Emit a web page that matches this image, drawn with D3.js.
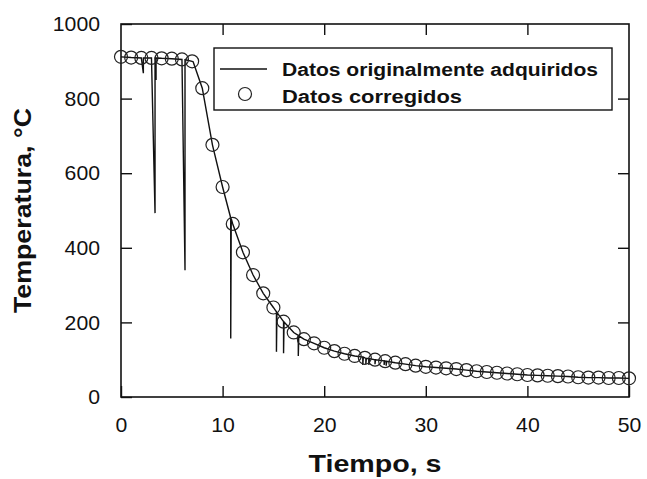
<!DOCTYPE html>
<html>
<head>
<meta charset="utf-8">
<script src="https://cdn.jsdelivr.net/npm/d3@7"></script>
<style>
    body { margin: 0; background: #fff; }
    svg text { font-family: "Liberation Sans", Arial, sans-serif; fill: #111; }
</style>
</head>
<body>
<div id="chart"></div>
<script>
// Corrected data, one point per second
const corrTime = [0, 1, 2, 3, 4, 5, 6, 7, 8, 9, 10, 11, 12, 13, 14, 15, 16, 17, 18, 19, 20,
    21, 22, 23, 24, 25, 26, 27, 28, 29, 30, 31, 32, 33, 34, 35, 36, 37, 38, 39, 40,
    41, 42, 43, 44, 45, 46, 47, 48, 49, 50];
const corrTemp = [912, 910, 909, 909, 908, 907, 905, 900, 828, 676, 563, 464, 388, 327, 278, 240, 202, 173, 155, 144, 132,
    123, 116, 110, 105, 100, 96, 92, 88, 84, 81, 79, 77, 75, 72, 69, 67, 65, 63, 61, 59,
    58, 57, 56, 55, 53, 52, 52, 51, 51, 50];

// Originally acquired signal, with the drop-out spikes
const rawTime = [0, 1, 2, 2.2, 2.2, 2.25, 3, 3.35, 3.35, 3.4, 3.45, 3.45, 3.5, 4, 5, 6, 6.3, 6.3, 6.35, 7, 7.1,
    8, 9, 10, 10.8, 10.8, 10.85, 11, 12, 13, 14, 15, 15.3, 15.3, 15.35, 16, 16, 16.05, 17, 17.45, 17.45, 17.5,
    18, 19, 20, 21, 22, 23, 23.8, 23.8, 23.85, 24, 24.1, 24.1, 24.15, 24.4, 24.4, 24.45, 25, 25, 25.05,
    25.9, 25.9, 25.95, 26.1, 26.1, 26.15, 27, 28, 29, 30, 31, 32, 33, 34, 35, 36, 37, 38, 39, 40,
    41, 42, 43, 44, 45, 46, 47, 48, 49, 50];
const rawTemp = [912, 910, 909, 868, 909, 909, 909, 493, 909, 909, 850, 909, 909, 908, 907, 905, 340, 904, 904, 900, 899,
    828, 676, 563, 480, 157, 478, 464, 388, 327, 278, 240, 228, 121, 227, 202, 117, 201, 173, 165, 110, 164,
    155, 144, 132, 123, 116, 110, 107, 86, 107, 105, 104, 88, 104, 103, 86, 103, 100, 88, 100,
    97, 86, 97, 96, 84, 96, 92, 88, 84, 81, 79, 77, 75, 72, 69, 67, 65, 63, 61, 59,
    58, 57, 56, 55, 53, 52, 52, 51, 51, 50];

const xTicks = [0, 10, 20, 30, 40, 50];
const yTicks = [0, 200, 400, 600, 800, 1000];
const legendLabels = ["Datos originalmente adquiridos", "Datos corregidos"];

const width = 647;
const height = 479;
const margin = { top: 24, right: 18, bottom: 82, left: 121 };
const innerW = width - margin.left - margin.right;
const innerH = height - margin.top - margin.bottom;

const svg = d3.select("#chart")
    .append("svg")
    .attr("width", width)
    .attr("height", height);

const g = svg.append("g")
    .attr("transform", `translate(${margin.left},${margin.top})`);

const x = d3.scaleLinear().domain([0, 50]).range([0, innerW]);
const y = d3.scaleLinear().domain([0, 1000]).range([innerH, 0]);

// Inward ticks on all four sides
const tickLen = 11;
const styleAxis = function (sel) {
    sel.select(".domain").remove();
    sel.selectAll(".tick line").attr("stroke", "#111").attr("stroke-width", 1.4);
    sel.selectAll(".tick text").attr("font-size", 21)
        .attr("textLength", function (d) { return String(d).length * 11.8; })
        .attr("lengthAdjust", "spacingAndGlyphs");
};

g.append("g")
    .attr("transform", `translate(0,${innerH})`)
    .call(d3.axisBottom(x).tickValues(xTicks).tickFormat(d3.format("d"))
        .tickSizeInner(-tickLen).tickSizeOuter(0).tickPadding(20))
    .call(styleAxis);

g.append("g")
    .call(d3.axisLeft(y).tickValues(yTicks).tickFormat(d3.format("d"))
        .tickSizeInner(-tickLen).tickSizeOuter(0).tickPadding(21))
    .call(styleAxis);

g.append("g")
    .call(d3.axisTop(x).tickValues(xTicks.slice(1, -1)).tickSizeInner(-tickLen).tickSizeOuter(0).tickFormat(""))
    .call(styleAxis);

g.append("g")
    .attr("transform", `translate(${innerW},0)`)
    .call(d3.axisRight(y).tickValues(yTicks.slice(1, -1)).tickSizeInner(-tickLen).tickSizeOuter(0).tickFormat(""))
    .call(styleAxis);

// Frame
g.append("rect")
    .attr("width", innerW)
    .attr("height", innerH)
    .attr("fill", "none")
    .attr("stroke", "#111")
    .attr("stroke-width", 1.6);

// Raw line
const line = d3.line()
    .x(function (d) { return x(d[0]); })
    .y(function (d) { return y(d[1]); });

g.append("path")
    .datum(rawTime.map(function (t, i) { return [t, rawTemp[i]]; }))
    .attr("fill", "none")
    .attr("stroke", "#111")
    .attr("stroke-width", 1.4)
    .attr("d", line);

// Corrected points
g.selectAll(".pt")
    .data(corrTime.map(function (t, i) { return [t, corrTemp[i]]; }))
    .enter()
    .append("circle")
    .attr("class", "pt")
    .attr("cx", function (d) { return x(d[0]); })
    .attr("cy", function (d) { return y(d[1]); })
    .attr("r", 6.5)
    .attr("fill", "none")
    .attr("stroke", "#222")
    .attr("stroke-width", 1.2);

// Legend
const legend = svg.append("g").attr("transform", "translate(214,48)");
legend.append("rect")
    .attr("width", 398)
    .attr("height", 62)
    .attr("fill", "#fff")
    .attr("stroke", "#111")
    .attr("stroke-width", 1.4);
legend.append("line")
    .attr("x1", 6).attr("x2", 53)
    .attr("y1", 21).attr("y2", 21)
    .attr("stroke", "#111")
    .attr("stroke-width", 1.4);
legend.append("circle")
    .attr("cx", 31).attr("cy", 46).attr("r", 6.5)
    .attr("fill", "none")
    .attr("stroke", "#222")
    .attr("stroke-width", 1.2);
legend.selectAll(".leg-label")
    .data(legendLabels)
    .enter()
    .append("text")
    .attr("class", "leg-label")
    .attr("x", 68)
    .attr("y", function (d, i) { return 28 + i * 27; })
    .attr("font-size", 18)
    .attr("font-weight", "bold")
    .attr("textLength", function (d, i) { return i === 0 ? 316 : 180; })
    .attr("lengthAdjust", "spacingAndGlyphs")
    .text(function (d) { return d; });

// Axis titles
svg.append("text")
    .attr("x", margin.left + innerW / 2)
    .attr("y", 472)
    .attr("text-anchor", "middle")
    .attr("font-size", 23)
    .attr("font-weight", "bold")
    .attr("textLength", 133)
    .attr("lengthAdjust", "spacingAndGlyphs")
    .text("Tiempo, s");

svg.append("text")
    .attr("transform", `translate(31,${margin.top + innerH / 2}) rotate(-90)`)
    .attr("text-anchor", "middle")
    .attr("font-size", 23)
    .attr("font-weight", "bold")
    .attr("textLength", 205)
    .attr("lengthAdjust", "spacingAndGlyphs")
    .text("Temperatura, °C");
</script>
</body>
</html>
